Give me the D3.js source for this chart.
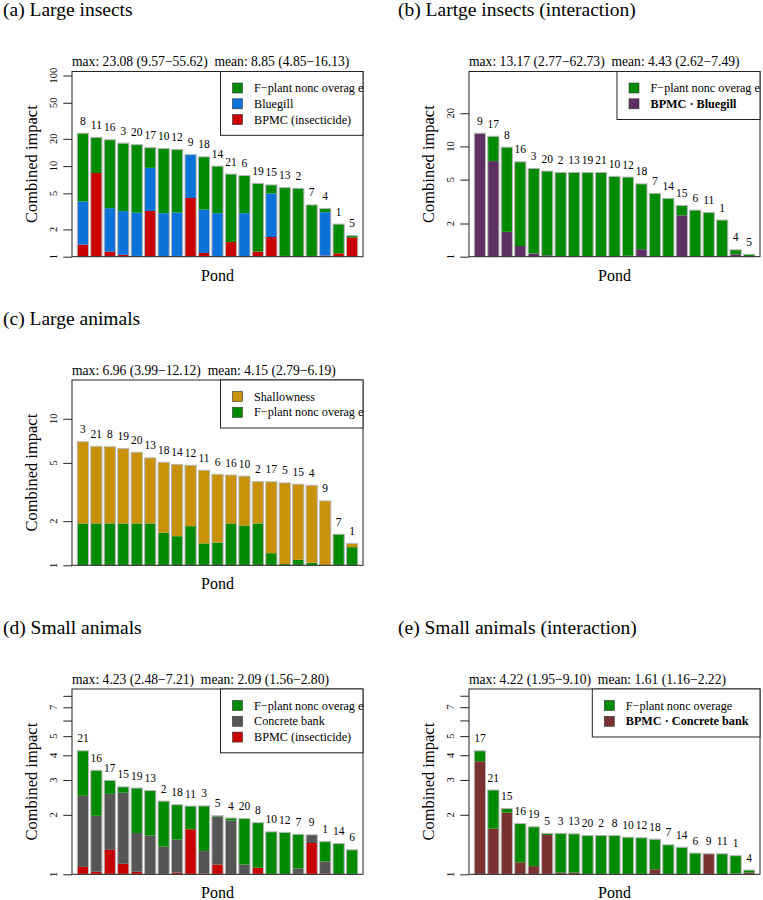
<!DOCTYPE html>
<html><head><meta charset="utf-8">
<script src="https://cdn.jsdelivr.net/npm/d3@7"></script>
<style>
body{margin:0;background:#fff}
svg{display:block}
</style>
</head><body>
<svg id="chart" width="763" height="900" font-family="'Liberation Serif','DejaVu Serif',serif" style="font-family:'Liberation Serif','DejaVu Serif',serif"></svg>
<script>
// ---------------- DATA ----------------
// Each series value is that factor's multiplicative contribution to the combined impact
// (stacked on a log axis: bottom segment first).
const pondsA = [8,11,16,3,20,17,10,12,9,18,14,21,6,19,15,13,2,7,4,1,5];
const aBPMC     = [1.36,8.38,1.14,1.05,1.02,3.20,1.00,1.02,4.45,1.10,1.00,1.45,1.00,1.14,1.65,1.02,1.00,1.02,1.03,1.09,1.63];
const aBluegill = [2.99,1.00,3.01,3.03,3.00,2.99,3.02,3.01,3.01,3.01,3.02,1.00,3.02,1.00,3.03,1.00,1.00,1.00,3.01,1.00,1.00];
const aFplant   = [5.67,2.48,5.69,5.63,5.64,1.67,5.17,4.98,1.00,3.82,3.31,5.63,2.61,5.66,1.24,5.67,5.69,3.66,1.10,2.10,1.05];

const pondsB = [9,17,8,16,3,20,2,13,19,21,10,12,18,7,14,15,6,11,1,4,5];
const bBPMCxBluegill = [13.17,7.36,1.68,1.25,1.07,1.03,1.00,1.00,1.00,1.00,1.00,1.02,1.17,1.00,1.00,2.37,1.01,1.00,1.00,1.05,1.00];
const bFplant        = [1.00,1.68,5.86,5.80,5.90,5.80,5.81,5.81,5.81,5.81,5.35,5.17,3.91,3.75,3.38,1.23,2.62,2.52,2.15,1.10,1.05];

const pondsC = [3,21,8,19,20,13,18,14,12,11,6,16,10,2,17,5,15,4,9,7,1];
const cFplant      = [1.93,1.93,1.93,1.93,1.93,1.93,1.67,1.58,1.85,1.41,1.43,1.93,1.87,1.93,1.21,1.02,1.09,1.04,1.00,1.63,1.33];
const cShallowness = [3.61,3.36,3.34,3.25,3.06,2.80,3.02,3.09,2.60,3.16,2.92,2.14,2.17,1.93,3.07,3.58,3.28,3.38,2.75,1.00,1.06];

const pondsD = [21,16,17,15,19,13,2,18,11,3,5,4,20,8,10,12,7,9,1,14,6];
const dBPMC     = [1.09,1.03,1.33,1.13,1.03,1.00,1.00,1.02,1.69,1.01,1.12,1.00,1.00,1.08,1.00,1.00,1.00,1.44,1.01,1.00,1.00];
const dConcrete = [2.29,1.92,1.92,2.29,1.57,1.57,1.38,1.47,1.00,1.30,1.75,1.87,1.12,1.00,1.00,1.00,1.07,1.10,1.15,1.00,1.00];
const dFplant   = [1.69,1.70,1.17,1.07,1.69,1.69,1.70,1.50,1.31,1.69,1.01,1.03,1.71,1.69,1.64,1.63,1.49,1.00,1.26,1.43,1.33];

const pondsE = [17,21,15,16,19,5,3,13,20,2,8,10,12,18,7,14,6,9,11,1,4];
const eBPMCxConcrete = [3.73,1.70,2.05,1.15,1.10,1.58,1.02,1.02,1.00,1.00,1.00,1.00,1.00,1.06,1.00,1.00,1.00,1.27,1.00,1.01,1.02];
const eFplant        = [1.13,1.57,1.05,1.57,1.58,1.02,1.58,1.57,1.57,1.57,1.57,1.54,1.53,1.42,1.41,1.37,1.28,1.00,1.27,1.23,1.03];

const titles = ["(a) Large insects","(b) Lartge insects (interaction)","(c) Large animals","(d) Small animals","(e) Small animals (interaction)"];
const headers = [
  "max: 23.08 (9.57\u221255.62)\u00a0 mean: 8.85 (4.85\u221216.13)",
  "max: 13.17 (2.77\u221262.73)\u00a0 mean: 4.43 (2.62\u22127.49)",
  "max: 6.96 (3.99\u221212.12)\u00a0 mean: 4.15 (2.79\u22126.19)",
  "max: 4.23 (2.48\u22127.21)\u00a0 mean: 2.09 (1.56\u22122.80)",
  "max: 4.22 (1.95\u22129.10)\u00a0 mean: 1.61 (1.16\u22122.22)"
];
const ticksA = [1,2,5,10,20,50,100];
const ticksB = [1,2,5,10,20];
const ticksC = [1,2,5,10];
const ticksDE = [1,2,3,4,5,6,7,8];
const tickLabelsDE = ["1","2","3","4","5","","7",""];

const COL = {fplant:"#038a03", bluegill:"#0a72d8", bpmc:"#c80000", shallow:"#c99108",
             concrete:"#555555", bpmcBlue:"#5e2f63", bpmcConc:"#7b3131"};

const FONT = "'Liberation Serif','DejaVu Serif',serif";

// ---------------- LAYOUT ----------------
const panels = [
  {title:titles[0], header:headers[0], ponds:pondsA, ticks:ticksA,
   box:{l:72,r:363,t:71.5,b:256.7}, legendW:142.5, titleX:3,
   stack:[{name:"BPMC (insecticide)",color:COL.bpmc,vals:aBPMC},
          {name:"Bluegill",color:COL.bluegill,vals:aBluegill},
          {name:"F\u2212plant nonc overage",gap:true,color:COL.fplant,vals:aFplant}]},
  {title:titles[1], header:headers[1], ponds:pondsB, ticks:ticksB,
   box:{l:469,r:760,t:71.5,b:256.7}, legendW:143, titleX:398,
   stack:[{name:"BPMC \u00b7 Bluegill",bold:true,color:COL.bpmcBlue,vals:bBPMCxBluegill},
          {name:"F\u2212plant nonc overage",gap:true,color:COL.fplant,vals:bFplant}]},
  {title:titles[2], header:headers[2], ponds:pondsC, ticks:ticksC,
   box:{l:72,r:363,t:380,b:565.3}, legendW:142.5, titleX:3,
   stack:[{name:"F\u2212plant nonc overage",gap:true,color:COL.fplant,vals:cFplant},
          {name:"Shallowness",color:COL.shallow,vals:cShallowness}]},
  {title:titles[3], header:headers[3], ponds:pondsD, ticks:ticksDE, tickLabels:tickLabelsDE,
   box:{l:72,r:363,t:689,b:874.3}, legendW:142.5, titleX:3,
   stack:[{name:"BPMC (insecticide)",color:COL.bpmc,vals:dBPMC},
          {name:"Concrete bank",color:COL.concrete,vals:dConcrete},
          {name:"F\u2212plant nonc overage",gap:true,color:COL.fplant,vals:dFplant}]},
  {title:titles[4], header:headers[4], ponds:pondsE, ticks:ticksDE, tickLabels:tickLabelsDE,
   box:{l:469,r:760,t:689,b:874.3}, legendW:167.7, titleX:398,
   stack:[{name:"BPMC \u00b7 Concrete bank",bold:true,color:COL.bpmcConc,vals:eBPMCxConcrete},
          {name:"F\u2212plant nonc overage",color:COL.fplant,vals:eFplant}]}
];

const svg = d3.select("#chart");

function txt(sel){ return sel.append("text").attr("font-family",FONT).style("font-family",FONT).attr("fill","#000"); }

panels.forEach(p => {
  const g = svg.append("g");
  const B = p.box;
  const n = p.ponds.length;
  const totals = d3.range(n).map(i => p.stack.reduce((acc,s)=>acc*s.vals[i],1));
  const yTop = Math.pow(d3.max(totals),1.5);
  const y = d3.scaleLog().domain([1,yTop]).range([B.b,B.t]);
  const x = d3.scaleBand().domain(d3.range(n)).range([B.l,B.r]).paddingInner(0.167).paddingOuter(0.393);

  txt(g).attr("x",p.titleX).attr("y",B.t-55.5).attr("font-size",19.5).text(p.title);
  txt(g).attr("x",B.l).attr("y",B.t-5.5).attr("font-size",13.6).text(p.header);

  const bars = g.append("g");
  d3.range(n).forEach(i => {
    let cum = 1;
    p.stack.forEach(s => {
      const v0 = cum; cum *= s.vals[i];
      if (s.vals[i] > 1.0001) {
        bars.append("rect").attr("x",x(i)).attr("width",x.bandwidth())
          .attr("y",y(cum)).attr("height",y(v0)-y(cum)).attr("fill",s.color);
      }
    });
    bars.append("rect").attr("x",x(i)).attr("width",x.bandwidth())
      .attr("y",y(totals[i])).attr("height",Math.max(0,y(1)-y(totals[i])))
      .attr("fill","none").attr("stroke","#b8b8b8").attr("stroke-width",1);
    txt(g).attr("x",x(i)+x.bandwidth()/2).attr("y",y(totals[i])-8.5)
      .attr("text-anchor","middle").attr("font-size",11.5).text(p.ponds[i]);
  });

  // y axis: tick marks via d3 axis, labels rotated
  const ax = d3.axisLeft(y).tickValues(p.ticks).tickSize(8.7).tickSizeOuter(0).tickFormat("");
  const axg = g.append("g").attr("transform",`translate(${B.l},0)`).call(ax);
  axg.select(".domain").remove();
  axg.selectAll(".tick line").attr("stroke","#222");
  p.ticks.forEach((t,i) => {
    const lab = p.tickLabels ? p.tickLabels[i] : String(t);
    if (!lab) return;
    txt(g).attr("transform",`translate(${B.l-15.5},${y(t)}) rotate(-90)`)
      .attr("text-anchor","middle").attr("font-size",10.5).text(lab);
  });

  g.append("rect").attr("x",B.l).attr("y",B.t).attr("width",B.r-B.l).attr("height",B.b-B.t)
   .attr("fill","none").attr("stroke","#222").attr("stroke-width",1);

  txt(g).attr("transform",`translate(${B.l-35},${(B.t+B.b)/2}) rotate(-90)`)
   .attr("text-anchor","middle").attr("font-size",16.5).text("Combined impact");
  txt(g).attr("x",(B.l+B.r)/2).attr("y",B.b+24).attr("text-anchor","middle")
   .attr("font-size",16).text("Pond");

  const items = p.stack.slice().reverse();
  const lh = 16.5 + (items.length-1)*15.8 + 15.7;
  const lx = B.r - p.legendW;
  const lg = g.append("g");
  lg.append("rect").attr("x",lx).attr("y",B.t).attr("width",p.legendW).attr("height",lh)
    .attr("fill","#fff").attr("stroke","#222").attr("stroke-width",1);
  items.forEach((s,k) => {
    const cy = B.t + 16.5 + k*15.8;
    lg.append("rect").attr("x",lx+12).attr("y",cy-5).attr("width",10).attr("height",10)
      .attr("fill",s.color).attr("stroke","#333").attr("stroke-width",0.6);
    const t = txt(lg).attr("x",lx+33.5).attr("y",cy+4).attr("font-size",12.2)
      .attr("font-weight",s.bold?"bold":"normal");
    if (s.gap) {
      t.append("tspan").text(s.name.slice(0,-1));
      t.append("tspan").attr("dx",3).text(s.name.slice(-1));
    } else t.text(s.name);
  });
});
</script>
</body></html>
